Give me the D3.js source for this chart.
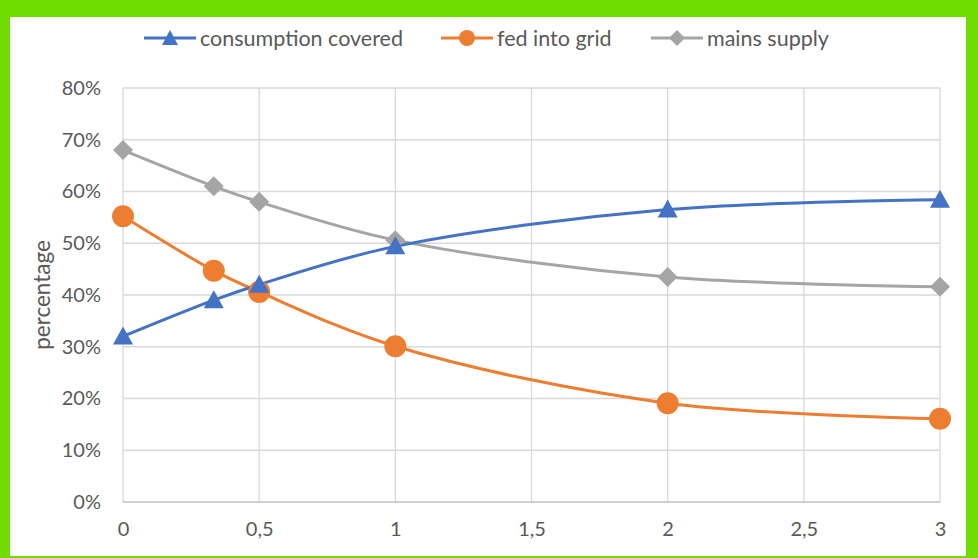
<!DOCTYPE html>
<html><head><meta charset="utf-8">
<script src="https://cdn.jsdelivr.net/npm/d3@7"></script>
<style>
html,body{margin:0;padding:0;background:#6fdc00;}
svg{display:block;}
</style></head>
<body>
<svg id="c" width="978" height="558"></svg>
<script>
const xValues = [0, 1/3, 0.5, 1, 2, 3];
const consumptionCovered = [0.32, 0.39, 0.42, 0.494, 0.565, 0.584];
const fedIntoGrid = [0.552, 0.447, 0.406, 0.301, 0.191, 0.161];
const mainsSupply = [0.68, 0.61, 0.58, 0.506, 0.435, 0.416];
const xTicks = [0, 0.5, 1, 1.5, 2, 2.5, 3];
const yTicks = [0, 0.1, 0.2, 0.3, 0.4, 0.5, 0.6, 0.7, 0.8];
const seriesNames = ["consumption covered", "fed into grid", "mains supply"];
const seriesColors = ["#4472c4", "#ed7d31", "#a5a5a5"];
const seriesMarkers = ["triangle", "circle", "diamond"];

const svg = d3.select("#c");
const font = "Lato, 'Open Sans', sans-serif";
svg.append("rect").attr("x",0).attr("y",0).attr("width",978).attr("height",558).attr("fill","#6fdc00");
svg.append("rect").attr("x",10).attr("y",17).attr("width",956).attr("height",539).attr("fill","#ffffff");

const x = d3.scaleLinear().domain([0,3]).range([123,940]);
const y = d3.scaleLinear().domain([0,0.8]).range([502,88]);

// gridlines
const g = svg.append("g");
g.selectAll(".hg").data(yTicks.filter(t=>t>0)).join("line")
  .attr("x1",x(0)).attr("x2",x(3)).attr("y1",d=>y(d)).attr("y2",d=>y(d))
  .attr("stroke","#d9d9d9").attr("stroke-width",1.3);
g.selectAll(".vg").data(xTicks).join("line")
  .attr("x1",d=>x(d)).attr("x2",d=>x(d)).attr("y1",y(0.8)).attr("y2",y(0))
  .attr("stroke","#d9d9d9").attr("stroke-width",1.3);
g.append("line").attr("x1",x(0)).attr("x2",x(3)).attr("y1",y(0)).attr("y2",y(0))
  .attr("stroke","#bfbfbf").attr("stroke-width",1.5);

// y axis labels
const yAxis = d3.axisLeft(y).tickValues(yTicks).tickFormat(d3.format(".0%")).tickSize(0).tickPadding(22);
const ya = svg.append("g").attr("transform",`translate(${x(0)},0)`).call(yAxis);
ya.select(".domain").remove();
ya.selectAll("text").attr("font-family",font).attr("font-size",20).attr("fill","#595959");

const xAxis = d3.axisBottom(x).tickValues(xTicks).tickFormat(d=>String(d).replace(".",",")).tickSize(0).tickPadding(20);
const xa = svg.append("g").attr("transform",`translate(0,${y(0)})`).call(xAxis);
xa.select(".domain").remove();
xa.selectAll("text").attr("font-family",font).attr("font-size",20).attr("fill","#595959");

svg.append("text").attr("transform","translate(50,295) rotate(-90)").attr("text-anchor","middle")
  .attr("font-family",font).attr("font-size",22.5).attr("fill","#595959").text("percentage");

// series
const allSeries = [consumptionCovered, fedIntoGrid, mainsSupply];
const line = d3.line().x(d=>x(d[0])).y(d=>y(d[1])).curve(d3.curveCatmullRom.alpha(0.5));
function marker(sel, type, color, cx, cy){
  if(type==="triangle"){
    sel.append("path").attr("d",`M${cx},${cy-10}L${cx+10},${cy+8}L${cx-10},${cy+8}Z`).attr("fill",color);
  } else if(type==="circle"){
    sel.append("circle").attr("cx",cx).attr("cy",cy).attr("r",11).attr("fill",color);
  } else {
    sel.append("path").attr("d",`M${cx},${cy-10}L${cx+10},${cy}L${cx},${cy+10}L${cx-10},${cy}Z`).attr("fill",color);
  }
}
const order = [2,1,0];
order.forEach(i=>{
  const pts = xValues.map((xv,j)=>[xv, allSeries[i][j]]);
  svg.append("path").datum(pts).attr("d",line).attr("fill","none")
    .attr("stroke",seriesColors[i]).attr("stroke-width",3);
});
order.forEach(i=>{
  const mg = svg.append("g");
  xValues.forEach((xv,j)=>marker(mg, seriesMarkers[i], seriesColors[i], x(xv), y(allSeries[i][j])));
});

// legend
const legendX = [144, 441, 651];
seriesNames.forEach((name,i)=>{
  const lg = svg.append("g");
  lg.append("line").attr("x1",legendX[i]).attr("x2",legendX[i]+52).attr("y1",38).attr("y2",38)
    .attr("stroke",seriesColors[i]).attr("stroke-width",3);
  const m = seriesMarkers[i];
  const cx = legendX[i]+26;
  if(m==="triangle") lg.append("path").attr("d",`M${cx},${30}L${cx+8},${45}L${cx-8},${45}Z`).attr("fill",seriesColors[i]);
  else if(m==="circle") lg.append("circle").attr("cx",cx).attr("cy",38).attr("r",8).attr("fill",seriesColors[i]);
  else lg.append("path").attr("d",`M${cx},30L${cx+8},38L${cx},46L${cx-8},38Z`).attr("fill",seriesColors[i]);
  lg.append("text").attr("x",legendX[i]+56).attr("y",38).attr("dy","0.35em")
    .attr("font-family",font).attr("font-size",21.5).attr("fill","#595959").text(name);
});
</script>
</body></html>
